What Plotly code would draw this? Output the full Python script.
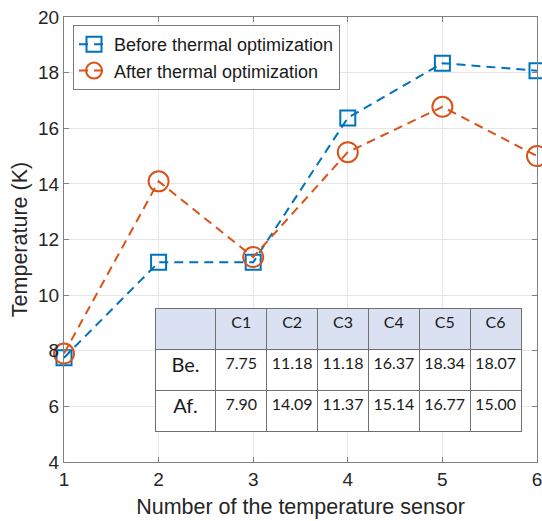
import plotly.graph_objects as go

# Sensor readings (K) before and after the thermal optimization
sensors = [1, 2, 3, 4, 5, 6]
before = [7.75, 11.18, 11.18, 16.37, 18.34, 18.07]
after = [7.90, 14.09, 11.37, 15.14, 16.77, 15.00]
col_labels = ["C1", "C2", "C3", "C4", "C5", "C6"]
row_labels = ["Be.", "Af."]

BLUE = "#0072BD"
ORANGE = "#D95319"
AXIS = "#808080"
GRID = "#e6e6e6"
FONT = "Liberation Sans, Arial, sans-serif"

W, H = 542, 521
L, R, T, B = 64, 5, 17, 59

fig = go.Figure()

fig.add_trace(go.Scatter(
    x=sensors, y=before, mode="lines+markers",
    name="Before thermal optimization", cliponaxis=False,
    line=dict(color=BLUE, width=2, dash="9px,6px"),
    marker=dict(symbol="square-open", size=15, color=BLUE,
                line=dict(width=2, color=BLUE)),
))
fig.add_trace(go.Scatter(
    x=sensors, y=after, mode="lines+markers",
    name="After thermal optimization", cliponaxis=False,
    line=dict(color=ORANGE, width=2, dash="9px,6px"),
    marker=dict(symbol="circle-open", size=20, color=ORANGE,
                line=dict(width=2, color=ORANGE)),
))

# Inset table of the values
pw = W - L - R
ph = H - T - B
tx0, tx1 = 155, 522
ty0, ty1 = 308, 434
cols = [row_labels] + [[b, a] for b, a in zip(before, after)]
fig.add_trace(go.Table(
    domain=dict(x=[(tx0 - L) / pw, (tx1 - L) / pw],
                y=[(H - B - ty1) / ph, (H - B - ty0) / ph]),
    columnwidth=[61, 51, 51, 51, 51, 51],
    header=dict(values=[""] + col_labels,
                fill_color="#d9e1f2",
                line=dict(color="#707070", width=1),
                align="center", height=41,
                font=dict(family="Lato, sans-serif", size=16, color="#1a1a1a")),
    cells=dict(values=cols,
               format=[""] + [".2f"] * 6,
               fill_color="white",
               line=dict(color="#707070", width=1),
               align="center", height=41,
               font=dict(family="Lato, sans-serif",
                         size=[20, 16, 16, 16, 16, 16, 16], color="#1a1a1a")),
))

axis_common = dict(
    showline=True, linecolor=AXIS, linewidth=1, mirror="allticks",
    ticks="inside", ticklen=5, tickcolor=AXIS, tickwidth=1,
    showgrid=True, gridcolor=GRID, gridwidth=1, zeroline=False,
    ticklabeloverflow="allow",
    tickfont=dict(family=FONT, size=19, color="#262626"),
)

fig.update_xaxes(range=[1, 6], dtick=1, tick0=1,
                 title=dict(text="Number of the temperature sensor", standoff=10,
                            font=dict(family=FONT, size=21.5, color="#262626")),
                 **axis_common)
fig.update_yaxes(range=[4, 20], dtick=2, tick0=4,
                 title=dict(text="Temperature (K)", standoff=4,
                            font=dict(family=FONT, size=21.5, color="#262626")),
                 **axis_common)

fig.update_layout(
    width=W, height=H,
    margin=dict(l=L, r=R, t=T, b=B, autoexpand=False),
    plot_bgcolor="white", paper_bgcolor="white",
    legend=dict(x=(73 - L) / pw, y=(H - B - 25) / ph, xanchor="left", yanchor="top",
                bgcolor="white", bordercolor="#7a7a7a", borderwidth=1,
                font=dict(family=FONT, size=18, color="#1a1a1a"),
                itemwidth=30, tracegroupgap=0),
    showlegend=True,
)

fig.write_html("out.html")
